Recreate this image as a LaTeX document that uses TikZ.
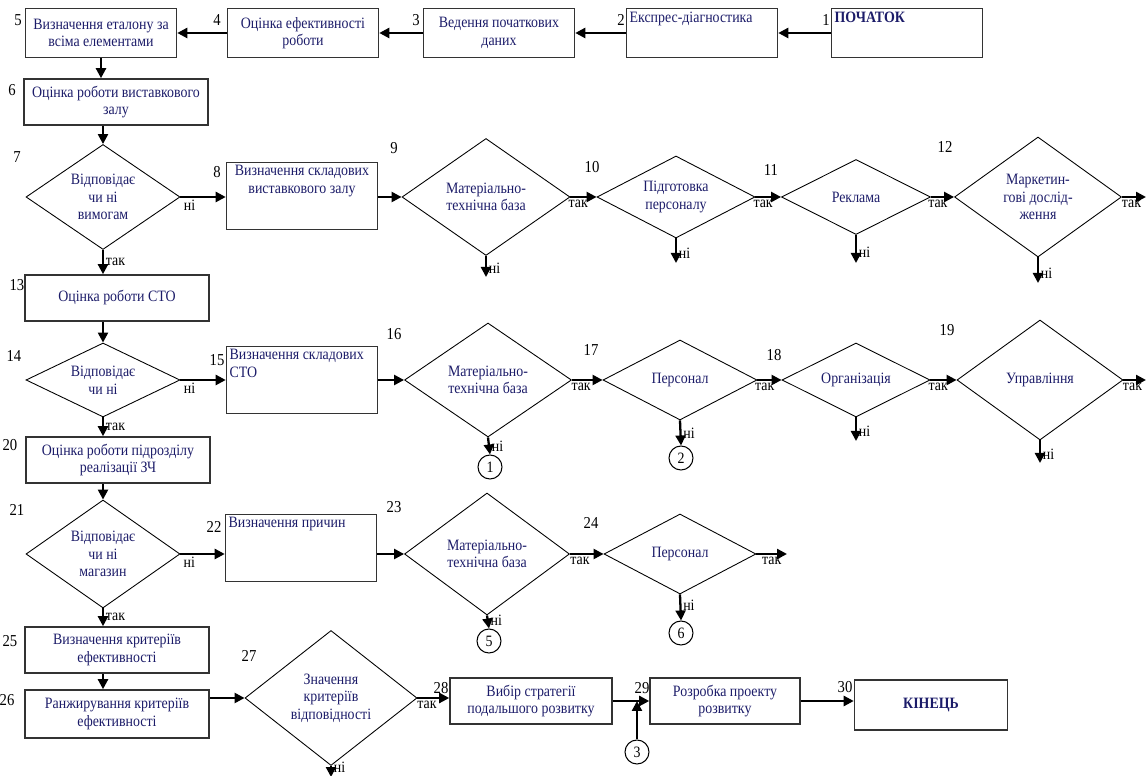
\documentclass[tikz,border=0pt]{standalone}
\usepackage{fontspec}
\setmainfont{Liberation Serif}[FakeStretch=0.88]
\usepackage{tikz}
\usetikzlibrary{arrows.meta,shapes.geometric}
\definecolor{txtB}{RGB}{28,28,105}

\begin{document}
\begin{tikzpicture}[
  x=0.02cm, y=-0.02cm,
  box/.style={rectangle, draw=black!80, line width=0.9pt, minimum width=3.02cm, minimum height=0.98cm, inner sep=1pt, align=center, text=txtB, font=\fontsize{9}{10}\selectfont},
  wbox/.style={box, minimum width=3.68cm, minimum height=0.92cm},
  tbox/.style={box, minimum height=1.34cm},
  dec/.style={diamond, draw=black, line width=0.5pt, inner sep=0pt, align=center, text=txtB, font=\fontsize{9}{10}\selectfont},
  intxt/.style={inner sep=2pt, align=left, text=txtB, font=\fontsize{9}{10}\selectfont},
  ring/.style={circle, draw=black, line width=0.6pt, minimum size=0.48cm, inner sep=0pt, font=\fontsize{9}{10}\selectfont},
  num/.style={inner sep=0pt, font=\fontsize{9.5}{10}\selectfont},
  lbl/.style={inner sep=1pt, font=\fontsize{9}{10}\selectfont},
  conn/.style={-{Triangle[length=2mm,width=2mm]}, line width=1.3pt}]

  \useasboundingbox (0,0) rectangle (1147,776);

  % top row, right to left
  \node[box, label={[intxt, anchor=north west, font=\fontsize{9}{10}\selectfont\bfseries]north west:ПОЧАТОК}] (b1) at (907,33) {};
  \node[box, label={[intxt, anchor=north west]north west:Експрес-діагностика}] (b2) at (702,33) {};
  \node[box] (b3) at (499,33) {Ведення початкових\\даних};
  \node[box] (b4) at (303,33) {Оцінка ефективності\\роботи};
  \node[box] (b5) at (101,33) {Визначення еталону за\\всіма елементами};
  \draw[conn] (b1.west) -- (b2.east);
  \draw[conn] (b2.west) -- (b3.east);
  \draw[conn] (b3.west) -- (b4.east);
  \draw[conn] (b4.west) -- (b5.east);

  % exhibition hall
  \node[wbox] (b6) at (116,102) {Оцінка роботи виставкового\\залу};
  \node[dec, minimum width=3.08cm, minimum height=2.1cm, shape aspect=1.47] (d7) at (103,197) {Відповідає\\чи ні\\вимогам};
  \node[tbox, label={[intxt, align=center, anchor=north]north:{Визначення складових\\виставкового залу}}] (b8) at (302,196) {};
  \node[dec, minimum width=3.36cm, minimum height=2.34cm, shape aspect=1.44] (d9) at (486,197) {Матеріально-\\технічна база};
  \node[dec, minimum width=3.16cm, minimum height=1.64cm, shape aspect=1.93] (d10) at (676,197) {Підготовка\\персоналу};
  \node[dec, minimum width=2.98cm, minimum height=1.5cm, shape aspect=1.99] (d11) at (856,197) {Реклама};
  \node[dec, minimum width=3.34cm, minimum height=2.4cm, shape aspect=1.39] (d12) at (1038,197) {Маркетин-\\гові дослід-\\ження};
  \coordinate (e9) at (486,277);
  \coordinate (e10) at (676,263);
  \coordinate (e11) at (856,263);
  \coordinate (e12) at (1038,283);
  \coordinate (r12) at (1146,197);
  \draw[conn] (b5.south) -- (b5.south |- b6.north);
  \draw[conn] (d7.north |- b6.south) -- (d7.north);
  \draw[conn] (d7.east) -- node[lbl, below, pos=0.2]{ні} (d7.east -| b8.west);
  \draw[conn] (b8.east |- d9.west) -- (d9.west);
  \draw[conn] (d9.east) -- node[lbl, below, pos=0.3]{так} (d10.west);
  \draw[conn] (d10.east) -- node[lbl, below, pos=0.3]{так} (d11.west);
  \draw[conn] (d11.east) -- node[lbl, below, pos=0.3]{так} (d12.west);
  \draw[conn] (d12.east) -- node[lbl, below, pos=0.4]{так} (r12);
  \draw[conn] (d9.south) -- node[lbl, right, pos=0.6]{ні} (e9);
  \draw[conn] (d10.south) -- node[lbl, right, pos=0.6]{ні} (e10);
  \draw[conn] (d11.south) -- node[lbl, right, pos=0.6]{ні} (e11);
  \draw[conn] (d12.south) -- node[lbl, right, pos=0.6]{ні} (e12);

  % service station
  \node[wbox] (b13) at (117,298) {Оцінка роботи СТО};
  \node[dec, minimum width=3.08cm, minimum height=1.48cm, shape aspect=2.08] (d14) at (103,380) {Відповідає\\чи ні};
  \node[tbox, label={[intxt, anchor=north west]north west:{Визначення складових\\СТО}}] (b15) at (302,380) {};
  \node[dec, minimum width=3.34cm, minimum height=2.28cm, shape aspect=1.46] (d16) at (488,380) {Матеріально-\\технічна база};
  \node[dec, minimum width=3.08cm, minimum height=1.6cm, shape aspect=1.93] (d17) at (680,380) {Персонал};
  \node[dec, minimum width=2.96cm, minimum height=1.48cm, shape aspect=2.0] (d18) at (856,380) {Організація};
  \node[dec, minimum width=3.32cm, minimum height=2.4cm, shape aspect=1.38] (d19) at (1040,380) {Управління};
  \node[ring] (c1) at (490,467) {1};
  \node[ring] (c2) at (681,458) {2};
  \coordinate (e18) at (856,441);
  \coordinate (e19) at (1040,463);
  \coordinate (r19) at (1146,380);
  \draw[conn] (d7.south) -- node[lbl, right, pos=0.5]{так} (d7.south |- b13.north);
  \draw[conn] (d14.north |- b13.south) -- (d14.north);
  \draw[conn] (d14.east) -- node[lbl, below, pos=0.2]{ні} (d14.east -| b15.west);
  \draw[conn] (b15.east |- d16.west) -- (d16.west);
  \draw[conn] (d16.east) -- node[lbl, below, pos=0.3]{так} (d17.west);
  \draw[conn] (d17.east) -- node[lbl, below, pos=0.3]{так} (d18.west);
  \draw[conn] (d18.east) -- node[lbl, below, pos=0.3]{так} (d19.west);
  \draw[conn] (d19.east) -- node[lbl, below, pos=0.4]{так} (r19);
  \draw[conn] (d16.south) -- node[lbl, right, pos=0.5]{ні} (c1.north);
  \draw[conn] (d17.south) -- node[lbl, right, pos=0.5]{ні} (c2.north);
  \draw[conn] (d18.south) -- node[lbl, right, pos=0.6]{ні} (e18);
  \draw[conn] (d19.south) -- node[lbl, right, pos=0.6]{ні} (e19);

  % spare parts shop
  \node[wbox] (b20) at (118,460) {Оцінка роботи підрозділу\\реалізації ЗЧ};
  \node[dec, minimum width=3.08cm, minimum height=2.16cm, shape aspect=1.43] (d21) at (103,554) {Відповідає\\чи ні\\магазин};
  \node[tbox, label={[intxt, anchor=north west]north west:Визначення причин}] (b22) at (301,548) {};
  \node[dec, minimum width=3.3cm, minimum height=2.44cm, shape aspect=1.35] (d23) at (487,554) {Матеріально-\\технічна база};
  \node[dec, minimum width=3.04cm, minimum height=1.6cm, shape aspect=1.9] (d24) at (680,554) {Персонал};
  \node[ring] (c5) at (489,641) {5};
  \node[ring] (c6) at (681,633) {6};
  \coordinate (r24) at (787,554);
  \draw[conn] (d14.south) -- node[lbl, right, pos=0.5]{так} (d14.south |- b20.north);
  \draw[conn] (d21.north |- b20.south) -- (d21.north);
  \draw[conn] (d21.east) -- node[lbl, below, pos=0.2]{ні} (d21.east -| b22.west);
  \draw[conn] (b22.east |- d23.west) -- (d23.west);
  \draw[conn] (d23.east) -- node[lbl, below, pos=0.3]{так} (d24.west);
  \draw[conn] (d24.east) -- node[lbl, below, pos=0.5]{так} (r24);
  \draw[conn] (d23.south) -- node[lbl, right, pos=0.4]{ні} (c5.north);
  \draw[conn] (d24.south) -- node[lbl, right, pos=0.4]{ні} (c6.north);

  % criteria and strategy
  \node[wbox] (b25) at (117,650) {Визначення критеріїв\\ефективності};
  \node[wbox, minimum height=0.96cm] (b26) at (117,714) {Ранжирування критеріїв\\ефективності};
  \node[dec, minimum width=3.44cm, minimum height=2.7cm, shape aspect=1.27] (d27) at (331,698) {Значення\\критеріїв\\відповідності};
  \node[box, minimum width=3.24cm, minimum height=0.92cm] (b28) at (531,701) {Вибір стратегії\\подальшого розвитку};
  \node[box, minimum width=3.0cm, minimum height=0.92cm] (b29) at (725,701) {Розробка проекту\\розвитку};
  \node[box, minimum width=3.06cm, minimum height=1.0cm, font=\fontsize{9}{10}\selectfont\bfseries] (b30) at (931,705) {КІНЕЦЬ};
  \node[ring] (c3) at (637,752) {3};
  \coordinate (e27) at (331,777);
  \draw[conn] (d21.south) -- node[lbl, right, pos=0.5]{так} (d21.south |- b25.north);
  \draw[conn] (d21.south |- b25.south) -- (d21.south |- b26.north);
  \draw[conn] (b26.east |- d27.west) -- (d27.west);
  \draw[conn] (d27.east) -- node[lbl, below, pos=0.3]{так} (d27.east -| b28.west);
  \draw[conn] (d27.south) -- node[lbl, right, pos=0.15]{ні} (e27);
  \draw[conn] (b28.east) -- (b29.west);
  \draw[conn] (c3.north) -- (c3.north |- b28.east);
  \draw[conn] (b29.east) -- (b29.east -| b30.west);

  % step numbers
  \foreach \k/\px/\py in {1/826/20, 2/621/20, 3/416/20, 4/217/20, 5/18/20, 6/12/90,
      7/17/157, 8/217/172, 9/394/148, 10/592/167, 11/771/170, 12/945/147,
      13/17/285, 14/14/356, 15/217/360, 16/394/334, 17/591/350, 18/774/355, 19/947/330,
      20/10/445, 21/17/510, 22/214/527, 23/394/507, 24/591/523,
      25/10/641, 26/7/700, 27/249/656, 28/441/688, 29/642/688, 30/845/687}
    \node[num] (n\k) at (\px,\py) {\k};
\end{tikzpicture}
\end{document}
